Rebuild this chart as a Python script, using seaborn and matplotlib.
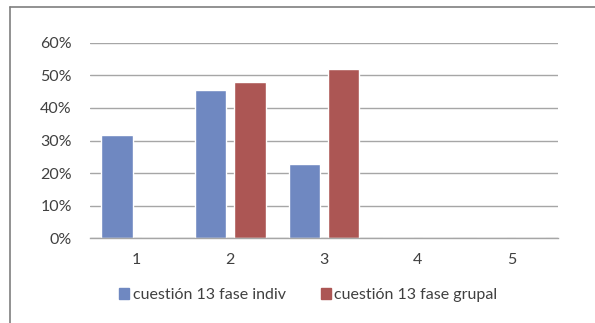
import matplotlib
matplotlib.use("Agg")
import matplotlib.pyplot as plt
from matplotlib.lines import Line2D
from matplotlib.ticker import PercentFormatter
import seaborn as sns
import pandas as pd

categories = ["1", "2", "3", "4", "5"]
series_names = ["cuestión 13 fase indiv", "cuestión 13 fase grupal"]
indiv_values = [0.318, 0.455, 0.227, 0.0, 0.0]
grupal_values = [0.0, 0.48, 0.52, 0.0, 0.0]
y_ticks = [0.0, 0.1, 0.2, 0.3, 0.4, 0.5, 0.6]

colors = ["#6F88C1", "#AC5654"]
text_color = "#404040"

df = pd.DataFrame({
    "category": categories * 2,
    "series": [series_names[0]] * len(categories) + [series_names[1]] * len(categories),
    "value": indiv_values + grupal_values,
})

sns.set_theme(style="white")
plt.rcParams["font.family"] = ["Lato", "DejaVu Sans"]

fig = plt.figure(figsize=(5.95, 3.23), dpi=100)
ax = fig.add_axes([0.151, 0.263, 0.787, 0.604])

sns.barplot(data=df, x="category", y="value", hue="series", order=categories,
            hue_order=series_names, palette=colors, width=0.835, gap=0.2,
            saturation=1, ax=ax, legend=False)

ax.set_ylim(0, 0.6)
ax.set_xlim(-0.5, len(categories) - 0.5)
ax.set_yticks(y_ticks)
ax.yaxis.set_major_formatter(PercentFormatter(1.0, decimals=0))
ax.grid(axis="y", color="#A6A6A6", linewidth=1)
ax.set_axisbelow(True)
for side in ["top", "right", "left"]:
    ax.spines[side].set_visible(False)
ax.spines["bottom"].set_color("#A6A6A6")
ax.spines["bottom"].set_linewidth(1)
ax.tick_params(axis="both", length=0, labelsize=11.5, labelcolor=text_color)
ax.tick_params(axis="y", pad=13)
ax.tick_params(axis="x", pad=11)
ax.set_xlabel("")
ax.set_ylabel("")

# outer chart frame (cut at right/bottom)
fig.add_artist(Line2D([10 / 595, 1.0], [1 - 7 / 323, 1 - 7 / 323], color="#7F7F7F", linewidth=1.2))
fig.add_artist(Line2D([10 / 595, 10 / 595], [0.0, 1 - 7 / 323], color="#7F7F7F", linewidth=1.2))

handles = [plt.Rectangle((0, 0), 1, 1, color=c) for c in colors]
fig.legend(handles, series_names, loc="center", bbox_to_anchor=(0.518, 0.087),
           ncol=2, frameon=False, fontsize=11.5, labelcolor=text_color,
           handlelength=0.65, handleheight=0.65, handletextpad=0.2, columnspacing=2.2)

fig.savefig("out.png", dpi=100)
